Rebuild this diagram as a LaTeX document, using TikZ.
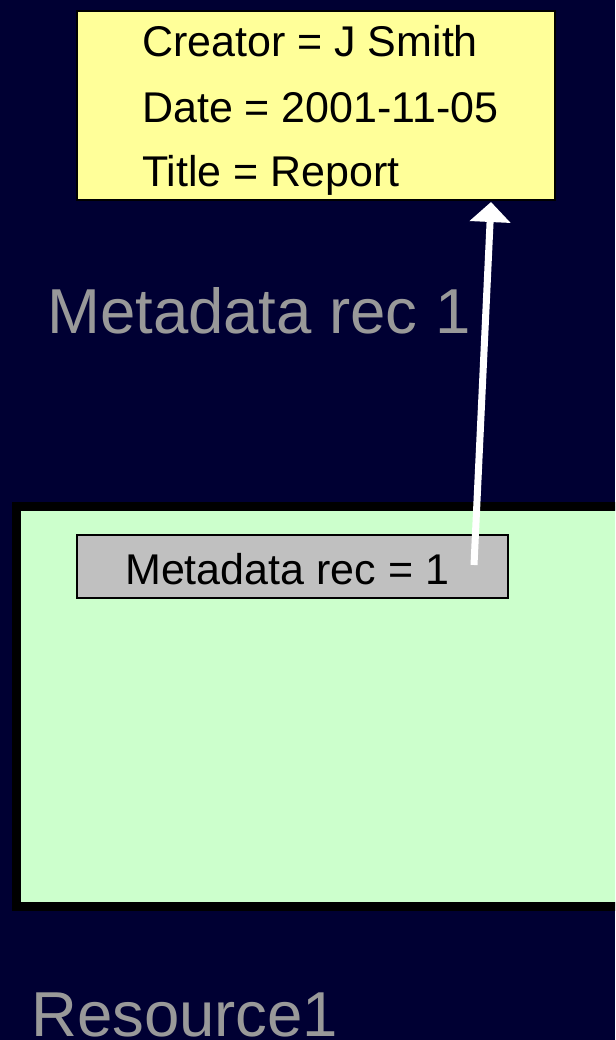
\documentclass[tikz,border=0pt]{standalone}
\usepackage{fontspec}
\setmainfont{Liberation Sans}
\usepackage{tikz}
\usetikzlibrary{arrows.meta}

\definecolor{slidebg}{RGB}{0,0,51}
\definecolor{recyellow}{RGB}{255,255,153}
\definecolor{resgreen}{RGB}{204,255,204}
\definecolor{fieldgray}{RGB}{192,192,192}
\definecolor{labelgray}{RGB}{153,153,153}

\begin{document}
\begin{tikzpicture}[x=1pt, y=-1pt,
    recbox/.style={draw=black, line width=2, fill=recyellow, anchor=north west, inner sep=0},
    resbox/.style={draw=black, line width=9, fill=resgreen, anchor=north west, inner sep=0},
    fieldbox/.style={draw=black, line width=2, fill=fieldgray, anchor=north west, inner sep=0},
    rectext/.style={anchor=base west, inner sep=0, font=\fontsize{43}{50}\selectfont},
    biglabel/.style={anchor=base west, inner sep=0, text=labelgray, font=\fontsize{63.5}{70}\selectfont},
    link/.style={draw=white, line width=7, -{Triangle[width=40pt,length=20pt]}}]

    % slide
    \clip (0,0) rectangle (615,1040);
    \fill[slidebg] (0,0) rectangle (615,1040);

    % metadata record
    \node[recbox, minimum width=478pt, minimum height=189pt] (record) at (76,10) {};
    \node[rectext] (creator) at (142,57) {Creator = J Smith};
    \node[rectext] (date) at (142,123) {Date = 2001-11-05};
    \node[rectext] (title) at (142,187) {Title = Report};
    \node[biglabel] (reclabel) at (47,333) {Metadata rec 1};

    % resource
    \node[resbox, minimum width=640pt, minimum height=400pt] (resource) at (11.5,501.5) {};
    \node[biglabel] (reslabel) at (31,1036) {Resource1};

    % pointer field
    \node[fieldbox, minimum width=431pt, minimum height=63pt] (field) at (76,534) {};
    \node[rectext] (fieldtext) at (125,584) {Metadata rec = 1};

    % pointer
    \coordinate (tail) at (474,565);
    \coordinate (tip) at (491,202);
    \draw[link] (tail) -- (tip);
\end{tikzpicture}
\end{document}
